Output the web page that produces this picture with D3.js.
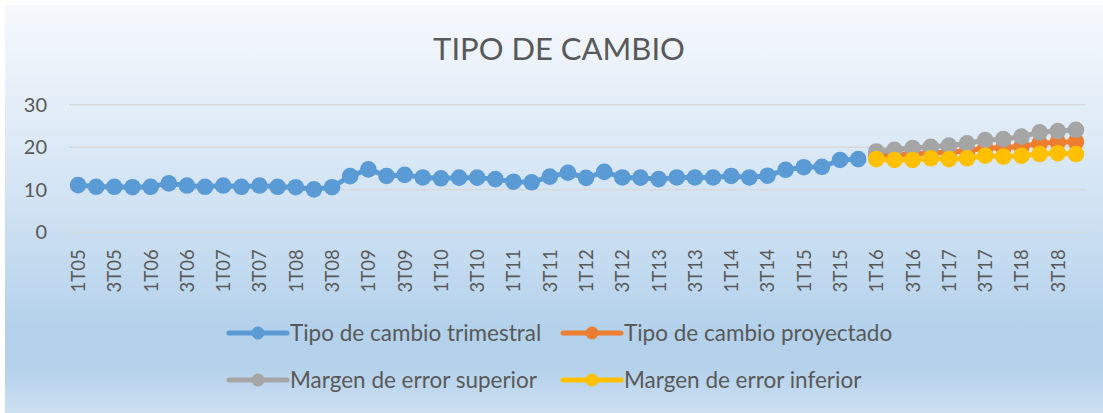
<!DOCTYPE html>
<html>
<head>
<meta charset="utf-8">
<script src="https://cdn.jsdelivr.net/npm/d3@7"></script>
<style>
  body { margin: 0; background: #fff; }
  svg { display: block; }
  text { font-family: Lato, "Open Sans", sans-serif; fill: #595959; }
</style>
</head>
<body>
<svg width="1103" height="413"></svg>
<script>
// trimestres 1T05 .. 4T18
var quarters = [
  "1T05","2T05","3T05","4T05","1T06","2T06","3T06","4T06",
  "1T07","2T07","3T07","4T07","1T08","2T08","3T08","4T08",
  "1T09","2T09","3T09","4T09","1T10","2T10","3T10","4T10",
  "1T11","2T11","3T11","4T11","1T12","2T12","3T12","4T12",
  "1T13","2T13","3T13","4T13","1T14","2T14","3T14","4T14",
  "1T15","2T15","3T15","4T15","1T16","2T16","3T16","4T16",
  "1T17","2T17","3T17","4T17","1T18","2T18","3T18","4T18"
];
var tickLabels = ["1T05","3T05","1T06","3T06","1T07","3T07","1T08","3T08","1T09","3T09",
  "1T10","3T10","1T11","3T11","1T12","3T12","1T13","3T13","1T14","3T14",
  "1T15","3T15","1T16","3T16","1T17","3T17","1T18","3T18"];
var yTicks = [0, 10, 20, 30];

// tipo de cambio trimestral, 1T05 .. 4T15
var trimestral = [11.1, 10.7, 10.7, 10.6, 10.7, 11.5, 11.0, 10.7, 11.0, 10.7,
  11.0, 10.7, 10.6, 10.1, 10.6, 13.2, 14.8, 13.25, 13.5, 12.9,
  12.7, 12.85, 12.85, 12.5, 11.9, 11.75, 13.1, 14.0, 12.8, 14.2,
  12.9, 12.85, 12.5, 12.9, 12.9, 12.9, 13.25, 12.9, 13.3, 14.7,
  15.3, 15.4, 17.0, 17.2];
// proyeccion 1T16 .. 4T18
var proyQuarters = quarters.slice(44);
var proyectado = [18.1, 18.2, 18.4, 18.7, 18.8, 19.1, 19.8, 19.9, 20.2, 20.9, 21.2, 21.3];
var superior = [19.0, 19.4, 19.8, 20.1, 20.4, 20.9, 21.7, 21.9, 22.5, 23.5, 23.8, 24.1];
var inferior = [17.2, 17.0, 17.0, 17.4, 17.2, 17.4, 18.0, 17.8, 18.0, 18.4, 18.6, 18.4];

var seriesNames = ["Tipo de cambio trimestral", "Tipo de cambio proyectado",
  "Margen de error superior", "Margen de error inferior"];
var colors = ["#5b9bd5", "#ed7d31", "#a5a5a5", "#ffc000"];

var svg = d3.select("svg");

// fondo degradado
var grad = svg.append("defs").append("linearGradient")
  .attr("id", "bg").attr("x1", 0).attr("y1", 0).attr("x2", 0).attr("y2", 1);
grad.append("stop").attr("offset", "0%").attr("stop-color", "#f6f9fd");
grad.append("stop").attr("offset", "50%").attr("stop-color", "#d0e2f3");
grad.append("stop").attr("offset", "80%").attr("stop-color", "#b3d1eb");
grad.append("stop").attr("offset", "90%").attr("stop-color", "#b6d2eb");
grad.append("stop").attr("offset", "100%").attr("stop-color", "#cde0f2");
svg.append("rect").attr("x", 5).attr("y", 5).attr("width", 1098).attr("height", 408)
  .attr("fill", "url(#bg)");

var x = d3.scalePoint().domain(quarters).range([69, 1085]).padding(0.5);
var y = d3.scaleLinear().domain([0, 30]).range([232.3, 104.7]);

// titulo
svg.append("text").attr("x", 559).attr("y", 60).attr("text-anchor", "middle")
  .style("font-size", "31px").text("TIPO DE CAMBIO");

// rejilla
svg.append("g").selectAll("line").data(yTicks).enter().append("line")
  .attr("x1", 69).attr("x2", 1085)
  .attr("y1", function(d) { return y(d); }).attr("y2", function(d) { return y(d); })
  .attr("stroke", "#d9d9d9").attr("stroke-width", 1.5);

var yAxis = svg.append("g").attr("transform", "translate(69,0)")
  .call(d3.axisLeft(y).tickValues(yTicks).tickSize(0).tickPadding(22));
yAxis.select(".domain").remove();
yAxis.selectAll("text").style("font-size", "20px").style("font-family", "Lato, sans-serif")
  .attr("fill", "#595959");

var xAxis = svg.append("g").attr("transform", "translate(0,232.3)")
  .call(d3.axisBottom(x).tickValues(tickLabels).tickSize(0));
xAxis.select(".domain").remove();
xAxis.selectAll("text")
  .style("font-size", "18.5px").style("font-family", "Lato, sans-serif").attr("fill", "#595959")
  .attr("transform", "rotate(-90)")
  .attr("text-anchor", "end")
  .attr("x", -17).attr("y", 0).attr("dy", "0.35em");

function drawSeries(cats, vals, color) {
  var pts = cats.map(function(c, i) { return [x(c), y(vals[i])]; });
  var g = svg.append("g");
  g.append("path").attr("d", d3.line()(pts))
    .attr("fill", "none").attr("stroke", color).attr("stroke-width", 5)
    .attr("stroke-linejoin", "round").attr("stroke-linecap", "round");
  g.selectAll("circle").data(pts).enter().append("circle")
    .attr("cx", function(d) { return d[0]; }).attr("cy", function(d) { return d[1]; })
    .attr("r", 8.3).attr("fill", color);
}
drawSeries(quarters.slice(0, trimestral.length), trimestral, colors[0]);
drawSeries(proyQuarters, proyectado, colors[1]);
drawSeries(proyQuarters, superior, colors[2]);
drawSeries(proyQuarters, inferior, colors[3]);

// leyenda
var legPos = [[229, 333], [563, 333], [229, 380], [563, 380]];
seriesNames.forEach(function(name, i) {
  var lx = legPos[i][0], ly = legPos[i][1];
  var g = svg.append("g");
  g.append("line").attr("x1", lx).attr("x2", lx + 58).attr("y1", ly).attr("y2", ly)
    .attr("stroke", colors[i]).attr("stroke-width", 5).attr("stroke-linecap", "round");
  g.append("circle").attr("cx", lx + 29).attr("cy", ly).attr("r", 6.5).attr("fill", colors[i]);
  g.append("text").attr("x", lx + 61).attr("y", ly).attr("dy", "0.35em")
    .style("font-size", "22.5px").text(name);
});
</script>
</body>
</html>
